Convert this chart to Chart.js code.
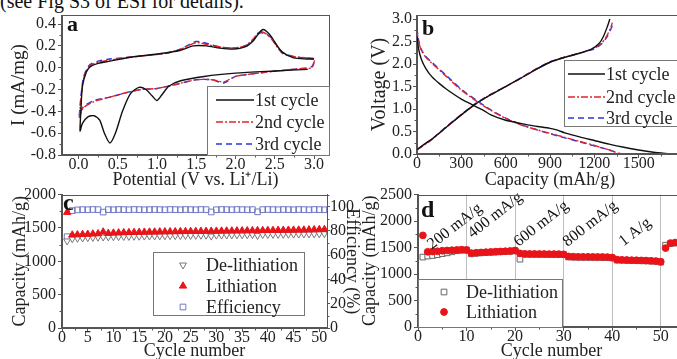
<!DOCTYPE html>
<html>
<head>
<meta charset="utf-8">
<script src="https://cdn.jsdelivr.net/npm/chart.js@4/dist/chart.umd.min.js"></script>
<style>
body{margin:0;background:#fff;}
#page{position:relative;width:677px;height:359px;overflow:hidden;background:#fff;font-family:'Liberation Serif',serif;}
.note{position:absolute;left:0;top:-9px;font-size:20px;line-height:20px;color:#111;white-space:nowrap;}
canvas{position:absolute;}
</style>
</head>
<body>
<div id="page">
  <div class="note">(see Fig S3 of ESI for details).</div>
  <canvas id="cv" width="345" height="191" style="left:0;top:0"></canvas>
  <canvas id="gcd" width="360" height="191" style="left:340px;top:0"></canvas>
  <canvas id="cyc" width="370" height="179" style="left:0;top:183px"></canvas>
  <canvas id="rate" width="362" height="179" style="left:338px;top:183px"></canvas>
</div>
<script>
// ---------------- DATA ----------------
// (a) cyclic voltammetry: potential (V) / current (mA/mg)
const cv1V=[2.92,2.5,2.0,1.6,1.3,1.15,1.06,1.0,0.94,0.86,0.77,0.66,0.56,0.47,0.40,0.33,0.27,0.2,0.12,0.05,0.02,0.03,0.05,0.1,0.15,0.25,0.4,0.7,1.1,1.3,1.46,1.63,1.8,1.97,2.12,2.23,2.3,2.35,2.4,2.46,2.53,2.6,2.74,2.9,3.0];
const cv1I=[-0.015,-0.03,-0.05,-0.08,-0.12,-0.17,-0.25,-0.3,-0.26,-0.2,-0.18,-0.24,-0.4,-0.6,-0.69,-0.6,-0.48,-0.44,-0.45,-0.51,-0.58,-0.4,-0.17,-0.04,0.01,0.04,0.06,0.1,0.135,0.16,0.2,0.2,0.18,0.17,0.19,0.25,0.32,0.35,0.33,0.28,0.2,0.14,0.09,0.08,0.08];
const cv2V=[0.01,0.03,0.06,0.1,0.15,0.25,0.4,0.7,1.1,1.3,1.5,1.65,1.8,1.97,2.12,2.22,2.29,2.33,2.39,2.46,2.53,2.6,2.75,2.9,3.0,2.97,2.8,2.4,2.0,1.85,1.7,1.5,1.2,1.0,0.8,0.6,0.4,0.2,0.06,0.01];
const cv2I=[-0.46,-0.3,-0.12,-0.03,0.02,0.05,0.07,0.1,0.13,0.17,0.23,0.21,0.19,0.18,0.2,0.26,0.32,0.33,0.31,0.26,0.19,0.13,0.1,0.09,0.07,0.0,-0.01,-0.04,-0.08,-0.13,-0.11,-0.11,-0.16,-0.19,-0.2,-0.23,-0.27,-0.31,-0.37,-0.46];
const cv3V=[0.01,0.03,0.06,0.1,0.15,0.25,0.4,0.7,1.1,1.3,1.5,1.65,1.8,1.97,2.12,2.22,2.29,2.33,2.39,2.46,2.53,2.6,2.75,2.9,3.0,2.97,2.8,2.4,2.0,1.85,1.7,1.5,1.2,1.0,0.8,0.6,0.4,0.2,0.06,0.01];
const cv3I=[-0.44,-0.27,-0.1,-0.02,0.03,0.06,0.08,0.1,0.13,0.17,0.24,0.22,0.19,0.18,0.2,0.25,0.31,0.32,0.31,0.27,0.2,0.14,0.1,0.09,0.08,0.01,-0.01,-0.04,-0.08,-0.14,-0.11,-0.11,-0.16,-0.19,-0.2,-0.23,-0.27,-0.3,-0.36,-0.44];
const cvXTicks=[0,0.5,1,1.5,2,2.5,3];
const cvYTicks=[-0.8,-0.6,-0.4,-0.2,0,0.2,0.4];
const cycleNames=["1st cycle","2nd cycle","3rd cycle"];

// (b) charge / discharge profiles: capacity (mAh/g) / voltage (V)
const ch1Cap=[0,50,100,200,300,400,500,600,700,800,900,1000,1100,1180,1230,1260,1290,1305];
const ch1V=[0.1,0.22,0.33,0.6,0.87,1.12,1.32,1.5,1.68,1.87,2.04,2.15,2.24,2.33,2.45,2.6,2.85,3.0];
const ch2Cap=[0,50,100,200,300,400,500,600,700,800,900,1000,1100,1200,1250,1280,1310,1322];
const ch2V=[0.09,0.2,0.32,0.6,0.87,1.12,1.32,1.5,1.68,1.87,2.04,2.15,2.24,2.35,2.47,2.6,2.8,2.92];
const ch3Cap=[0,50,100,200,300,400,500,600,700,800,900,1000,1100,1200,1250,1285,1315,1325];
const ch3V=[0.1,0.21,0.33,0.61,0.88,1.13,1.33,1.5,1.69,1.88,2.05,2.15,2.24,2.34,2.45,2.6,2.8,2.9];
const dis1Cap=[0,10,30,60,100,150,200,300,360,450,500,600,700,800,900,950,1000,1100,1200,1300,1400,1500,1600,1710];
const dis1V=[2.62,2.35,2.1,1.9,1.72,1.57,1.44,1.22,1.12,0.97,0.87,0.75,0.68,0.62,0.57,0.53,0.47,0.38,0.3,0.22,0.15,0.09,0.04,0.0];
const dis2Cap=[0,10,30,60,100,200,300,400,500,600,700,800,900,1000,1100,1200,1300,1375];
const dis2V=[2.75,2.5,2.3,2.15,2.02,1.72,1.42,1.18,0.97,0.79,0.65,0.55,0.46,0.37,0.28,0.19,0.09,0.0];
const dis3Cap=[0,10,30,60,100,200,300,400,500,600,700,800,900,1000,1100,1200,1300,1385];
const dis3V=[2.8,2.55,2.32,2.17,2.04,1.74,1.44,1.2,0.98,0.8,0.66,0.55,0.45,0.36,0.27,0.18,0.09,0.0];
const gcdXTicks=[0,300,600,900,1200,1500];
const gcdYTicks=[0,0.5,1,1.5,2,2.5,3];

// (c) cycling at 200 mA/g, one value per cycle starting at cycle 1
const delithC=[1305,1338,1345,1350,1354,1358,1361,1364,1366,1368,1370,1372,1373,1375,1376,1378,1379,1380,1381,1383,1384,1385,1386,1387,1388,1389,1390,1391,1378,1392,1393,1394,1395,1396,1397,1398,1399,1388,1401,1402,1403,1404,1405,1406,1407,1408,1409,1410,1411,1412,1414,1416];
const lithC=[1735,1395,1398,1402,1406,1410,1414,1440,1420,1424,1427,1430,1432,1434,1436,1438,1439,1440,1442,1443,1444,1445,1446,1447,1448,1449,1450,1451,1452,1453,1454,1455,1456,1457,1458,1459,1460,1461,1462,1463,1464,1465,1466,1467,1468,1469,1470,1472,1474,1476,1478,1480];
const effC=[75.3,96.8,97.4,97.6,97.5,97.7,97.6,95.6,97.6,97.5,97.7,97.6,97.5,97.7,97.6,97.5,97.6,97.7,97.6,97.5,97.7,97.6,97.5,97.7,97.6,97.5,97.7,97.6,95.7,97.5,97.7,97.6,97.5,97.7,97.6,97.5,97.6,95.8,97.6,97.7,97.6,97.5,97.7,97.6,97.5,97.7,97.6,97.5,97.7,97.6,97.5,97.6];
const cycXTicks=[0,5,10,15,20,25,30,35,40,45,50];
const capTicksC=[0,500,1000,1500,2000];
const effTicks=[0,20,40,60,80,100];
const seriesC=["De-lithiation","Lithiation","Efficiency"];

// (d) rate capability, one value per cycle starting at cycle 1
const delithD=[1320,1340,1350,1365,1385,1400,1420,1440,1450,1452,1382,1392,1400,1405,1410,1415,1420,1425,1430,1438,1280,1372,1372,1372,1371,1371,1370,1370,1369,1366,1322,1318,1316,1315,1315,1314,1313,1312,1310,1303,1262,1260,1258,1255,1253,1250,1248,1244,1240,1225,1545,1575,1585,1590];
const lithD=[1730,1420,1425,1430,1440,1445,1450,1455,1460,1455,1395,1402,1408,1413,1418,1422,1426,1430,1435,1445,1390,1382,1380,1379,1378,1378,1377,1377,1376,1372,1332,1328,1326,1325,1325,1324,1323,1322,1320,1312,1272,1268,1265,1262,1260,1257,1254,1250,1245,1232,1490,1585,1595,1600];
const rateXTicks=[0,10,20,30,40,50];
const capTicksD=[0,500,1000,1500,2000,2500];
const seriesD=["De-lithiation","Lithiation"];
const rateNames=["200 mA/g","400 mA/g","600 mA/g","800 mA/g","1 A/g"];

// ---------------- HELPERS ----------------
const FONT="'Liberation Serif', 'Times New Roman', serif";
const AXIS="#555";
Chart.defaults.font.family=FONT;
Chart.defaults.font.size=16;
Chart.defaults.color="#222";
Chart.defaults.animation=false;

const zip=(xs,ys)=>xs.map((x,i)=>({x:x,y:ys[i]}));
const perCycle=ys=>ys.map((y,i)=>({x:i+1,y:y}));

function axis(o){
  const horiz=o.pos==="bottom";
  return {
    type:"linear",position:o.pos,min:o.min,max:o.max,
    afterBuildTicks:a=>{a.ticks=o.ticks.map(v=>({value:v}));},
    afterFit:s=>{if(horiz) s.height=o.size; else s.width=o.size;},
    ticks:{autoSkip:false,maxRotation:0,padding:o.tickPad,callback:o.fmt||(v=>v),font:{size:16}},
    grid:{drawOnChartArea:!!o.gridColor,color:o.gridColor||AXIS,tickColor:AXIS,tickLength:o.tickLen||4},
    border:{display:true,color:AXIS,width:1},
    title:{display:true,text:o.title,font:{size:o.titleSize||18},
      padding:horiz?{top:0,bottom:o.titlePad}:{top:o.titlePad,bottom:0}}
  };
}

function drawMarker(c,ds,x,y){
  c.fillStyle=ds.pointBackgroundColor;
  c.strokeStyle=ds.pointBorderColor;
  c.lineWidth=ds.pointBorderWidth;
  if(Chart.helpers&&Chart.helpers.drawPoint){
    Chart.helpers.drawPoint(c,{pointStyle:ds.pointStyle,radius:ds.pointRadius,rotation:ds.pointRotation||0,borderWidth:ds.pointBorderWidth},x,y);
  }else{
    c.beginPath();c.arc(x,y,ds.pointRadius,0,Math.PI*2);c.fill();c.stroke();
  }
}

// frame around the plot, minor ticks, boxed legend, panel letter
function decor(cfg){
  return {id:"decor",afterDraw(ch){
    const c=ch.ctx,a=ch.chartArea;
    c.save();
    c.strokeStyle=AXIS;c.lineWidth=1;
    c.strokeRect(Math.round(a.left)-0.5,Math.round(a.top)+0.5,Math.round(a.right-a.left)+1,Math.round(a.bottom-a.top)-1);
    // minor ticks half way between the major ones
    Object.values(ch.scales).forEach(s=>{
      const v=s.ticks.map(t=>t.value);
      c.beginPath();
      for(let i=0;i<v.length;i++){
        const m=i<v.length-1?(v[i]+v[i+1])/2:v[i]+(v[i]-v[i-1])/2;
        if(m>s.max) continue;
        const p=Math.round(s.getPixelForValue(m))+0.5;
        if(s.position==="bottom"){c.moveTo(p,a.bottom);c.lineTo(p,a.bottom+2.5);}
        else if(s.position==="left"){c.moveTo(a.left,p);c.lineTo(a.left-2.5,p);}
        else {c.moveTo(a.right,p);c.lineTo(a.right+2.5,p);}
      }
      c.stroke();
    });
    const L=cfg.legend,b=L.box;
    c.fillStyle="#fff";c.fillRect(b[0],b[1],b[2]-b[0],b[3]-b[1]);
    c.strokeStyle="#777";c.strokeRect(b[0]+0.5,b[1]+0.5,b[2]-b[0]-1,b[3]-b[1]-1);
    c.font="18px "+FONT;c.textBaseline="middle";c.textAlign="left";
    L.rows.forEach(r=>{
      const ds=ch.data.datasets[r.ds];
      if(L.line){
        c.strokeStyle=ds.borderColor;c.lineWidth=ds.borderWidth;c.setLineDash(ds.borderDash||[]);
        c.beginPath();c.moveTo(L.line[0],r.y);c.lineTo(L.line[1],r.y);c.stroke();c.setLineDash([]);
      }else{
        drawMarker(c,ds,L.markX,r.y);
      }
      c.fillStyle="#222";c.fillText(ds.label,L.textX,r.y+1);
    });
    c.fillStyle="#111";c.font="bold "+cfg.letterSize+"px "+FONT;c.textBaseline="alphabetic";
    c.fillText(cfg.letter,a.left+cfg.letterAt[0],a.top+cfg.letterAt[1]);
    c.restore();
  }};
}

function lineDs(label,data,color,dash){
  return {label:label,data:data,showLine:true,borderColor:color,borderWidth:1.4,borderDash:dash,
    pointRadius:0,tension:0.25,fill:false};
}

const base={responsive:false,animation:false,plugins:{legend:{display:false},tooltip:{enabled:false}}};

// ---------------- (a) CV ----------------
new Chart(document.getElementById("cv"),{
  type:"scatter",
  data:{datasets:[
    lineDs(cycleNames[0],zip(cv1V,cv1I),"#111",[]),
    lineDs(cycleNames[1],zip(cv2V,cv2I),"#e0242a",[7,2,2,2]),
    lineDs(cycleNames[2],zip(cv3V,cv3I),"#2a36e0",[6,4])
  ]},
  options:Object.assign({},base,{
    layout:{padding:{left:0,right:16,top:15,bottom:0}},
    scales:{
      x:axis({pos:"bottom",min:-0.21,max:3.19,ticks:cvXTicks,fmt:v=>v.toFixed(1),size:36,tickPad:-4,
        title:"Potential (V vs. Li\u207A/Li)",titleSize:18,titlePad:0}),
      y:axis({pos:"left",min:-0.8,max:0.483,ticks:cvYTicks,fmt:v=>v.toFixed(1),size:62,tickPad:2,
        title:"I (mA/mg)",titleSize:19,titlePad:8})
    }
  }),
  plugins:[decor({legend:{box:[207,86,330,156],line:[216,254],textX:255,rows:[{ds:0,y:100},{ds:1,y:122},{ds:2,y:144}]},
    letter:"a",letterSize:22,letterAt:[5,16]})]
});

// ---------------- (b) charge/discharge ----------------
new Chart(document.getElementById("gcd"),{
  type:"scatter",
  data:{datasets:[
    lineDs(cycleNames[0],zip(dis1Cap,dis1V),"#111",[]),
    lineDs(cycleNames[1],zip(dis2Cap,dis2V),"#e0242a",[7,2,2,2]),
    lineDs(cycleNames[2],zip(dis3Cap,dis3V),"#2a36e0",[6,4]),
    lineDs(cycleNames[0],zip(ch1Cap,ch1V),"#111",[]),
    lineDs(cycleNames[1],zip(ch2Cap,ch2V),"#e0242a",[7,2,2,2]),
    lineDs(cycleNames[2],zip(ch3Cap,ch3V),"#2a36e0",[6,4])
  ]},
  options:Object.assign({},base,{
    layout:{padding:{left:0,right:17,top:15,bottom:0}},
    scales:{
      x:axis({pos:"bottom",min:0,max:1800,ticks:gcdXTicks,size:37,tickPad:-4,
        title:"Capacity (mAh/g)",titleSize:18,titlePad:0}),
      y:axis({pos:"left",min:0,max:3.09,ticks:gcdYTicks,fmt:v=>v.toFixed(1),size:77,tickPad:1,
        title:"Voltage (V)",titleSize:20,titlePad:28})
    }
  }),
  plugins:[decor({legend:{box:[224,60,372,127],line:[228,265],textX:266,rows:[{ds:0,y:74},{ds:1,y:97},{ds:2,y:118}]},
    letter:"b",letterSize:22,letterAt:[5,20]})]
});

// ---------------- (c) cycling ----------------
new Chart(document.getElementById("cyc"),{
  type:"scatter",
  data:{datasets:[
    {label:seriesC[0],data:perCycle(delithC),order:1,pointStyle:"triangle",pointRotation:180,pointRadius:4,
      pointBackgroundColor:"#fff",pointBorderColor:"#777",pointBorderWidth:1},
    {label:seriesC[1],data:perCycle(lithC),order:0,pointStyle:"triangle",pointRadius:4.2,
      pointBackgroundColor:"#e8141a",pointBorderColor:"#e8141a",pointBorderWidth:1},
    {label:seriesC[2],data:perCycle(effC),order:2,yAxisID:"y2",pointStyle:"rect",pointRadius:4,
      pointBackgroundColor:"rgba(255,255,255,0)",pointBorderColor:"#7278c4",pointBorderWidth:1}
  ]},
  options:Object.assign({},base,{
    layout:{padding:{left:0,right:0,top:7,bottom:0}},
    scales:{
      x:axis({pos:"bottom",min:0,max:51.5,ticks:cycXTicks,size:34,tickPad:-4,
        title:"Cycle number",titleSize:18,titlePad:0}),
      y:axis({pos:"left",min:0,max:2000,ticks:capTicksC,size:62,tickPad:2,
        title:"Capacity (mAh/g)",titleSize:18,titlePad:9}),
      y2:axis({pos:"right",min:0,max:110,ticks:effTicks,size:43,tickPad:0,tickLen:3,
        title:"Efficiency (%)",titleSize:18,titlePad:7})
    }
  }),
  plugins:[decor({legend:{box:[153,69,305,133],markX:183,textX:206,rows:[{ds:0,y:82},{ds:1,y:103},{ds:2,y:124}]},
    letter:"c",letterSize:24,letterAt:[1,15]})]
});

// ---------------- (d) rate capability ----------------
const rateLabels={id:"rateLabels",afterDatasetsDraw(ch){
  const c=ch.ctx,x=ch.scales.x,y=ch.scales.y;
  const at=[[7.6,1900],[15.9,2110],[25.4,1950],[35.5,1950],[44.7,1790]];
  c.save();
  c.fillStyle="#111";c.font="16px "+FONT;c.textAlign="center";c.textBaseline="middle";
  rateNames.forEach((t,i)=>{
    c.save();
    c.translate(x.getPixelForValue(at[i][0]),y.getPixelForValue(at[i][1]));
    c.rotate(-38*Math.PI/180);
    c.fillText(t,0,0);
    c.restore();
  });
  c.restore();
}};

new Chart(document.getElementById("rate"),{
  type:"scatter",
  data:{datasets:[
    {label:seriesD[0],data:perCycle(delithD),order:1,pointStyle:"rect",pointRadius:4,
      pointBackgroundColor:"#fff",pointBorderColor:"#666",pointBorderWidth:1},
    {label:seriesD[1],data:perCycle(lithD),order:0,pointStyle:"circle",pointRadius:3.4,
      pointBackgroundColor:"#e8141a",pointBorderColor:"#e8141a",pointBorderWidth:1}
  ]},
  options:Object.assign({},base,{
    layout:{padding:{left:0,right:15,top:7,bottom:0}},
    scales:{
      x:axis({pos:"bottom",min:0,max:55,ticks:rateXTicks,size:35,tickPad:-4,gridColor:"#bdbdbd",
        title:"Cycle number",titleSize:18,titlePad:0}),
      y:axis({pos:"left",min:0,max:2500,ticks:capTicksD,size:80,tickPad:2,
        title:"Capacity (mAh/g)",titleSize:18,titlePad:21})
    }
  }),
  plugins:[rateLabels,decor({legend:{box:[80,96,225,145],markX:106,textX:128,rows:[{ds:0,y:109},{ds:1,y:129}]},
    letter:"d",letterSize:24,letterAt:[3,22]})]
});
</script>
</body>
</html>
